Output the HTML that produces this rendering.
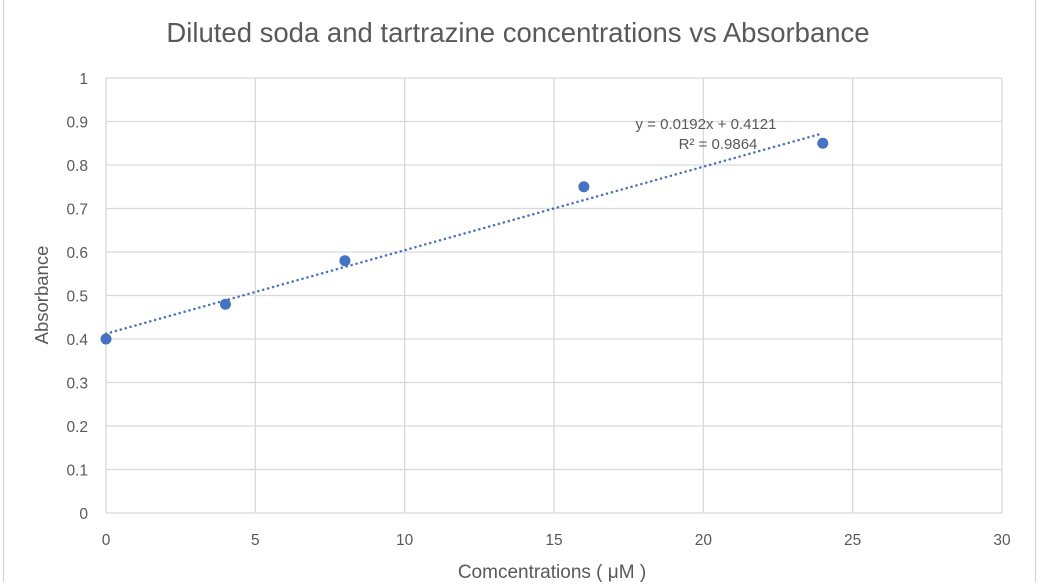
<!DOCTYPE html>
<html><head><meta charset="utf-8"><style>
body{margin:0;background:#fff;}
svg text{font-family:"Liberation Sans",sans-serif;fill:#595959;}
</style></head><body>
<svg id="chart" width="1042" height="582" xmlns="http://www.w3.org/2000/svg">
<rect x="0" y="0" width="1042" height="582" fill="#fff"/>
<line x1="3.5" y1="0" x2="3.5" y2="582" stroke="#d0d0d0"/>
<line x1="1035.5" y1="0" x2="1035.5" y2="582" stroke="#d0d0d0"/>
<text x="518" y="42" font-size="27.5" text-anchor="middle">Diluted soda and tartrazine concentrations vs Absorbance</text>
<g id="grid"></g><g id="marks"></g>
<text x="552" y="578" font-size="19" text-anchor="middle">Comcentrations ( μM )</text>
<text transform="translate(48,295) rotate(-90)" font-size="18.5" text-anchor="middle">Absorbance</text>
<text x="706" y="129" font-size="15" text-anchor="middle">y = 0.0192x + 0.4121</text>
<text x="718" y="149" font-size="15" text-anchor="middle">R² = 0.9864</text>
</svg>
<script>
const xValues=[0,4,8,16,24];
const yValues=[0.40,0.48,0.58,0.75,0.85];
const xTicks=[0,5,10,15,20,25,30];
const yTicks=[0,0.1,0.2,0.3,0.4,0.5,0.6,0.7,0.8,0.9,1];
const slope=0.0192, intercept=0.4121;
const X0=106,X1=1002,Y0=513,Y1=78;
const sx=v=>X0+(v-0)/30*(X1-X0);
const sy=v=>Y0-(v-0)/1*(Y0-Y1);
const NS="http://www.w3.org/2000/svg";
const grid=document.getElementById('grid'),marks=document.getElementById('marks');
function mk(tag,attrs,parent){const e=document.createElementNS(NS,tag);for(const k in attrs)e.setAttribute(k,attrs[k]);parent.appendChild(e);return e;}
yTicks.forEach(t=>{
 const l=mk('line',{x1:X0,x2:X1,y1:sy(t),y2:sy(t),stroke:'#d9d9d9','stroke-width':1.3},grid);
 
 
 const tx=mk('text',{x:X0-18,y:sy(t)+6,'font-size':15.5,'text-anchor':'end'},grid);
 tx.textContent=String(t);
 
 
});
xTicks.forEach(t=>{
 const l=mk('line',{x1:sx(t),x2:sx(t),y1:Y1,y2:Y0,stroke:'#d9d9d9','stroke-width':1.3},grid);
 
 
 const tx=mk('text',{x:sx(t),y:Y0+32,'font-size':15.5,'text-anchor':'middle'},grid);
 tx.textContent=String(t);
 
 
});
const xmax=Math.max(...xValues);
const tl=mk('line',{x1:sx(0),y1:sy(intercept),x2:sx(xmax),y2:sy(intercept+slope*xmax),stroke:'#4472c4','stroke-width':2.5,'stroke-dasharray':'0.1 5','stroke-linecap':'round'},marks);


xValues.forEach((x,i)=>{
 const c=mk('circle',{cx:sx(x),cy:sy(yValues[i]),r:5.5,fill:'#4472c4'},marks);
 
 
});
</script>
</body></html>
